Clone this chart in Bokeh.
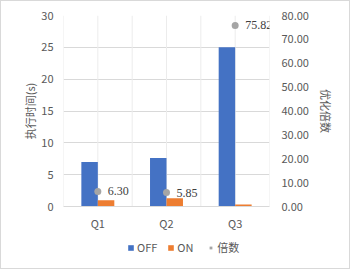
from bokeh.plotting import figure
from bokeh.layouts import column
from bokeh.models import (Range1d, FactorRange, LinearAxis, SingleIntervalTicker,
                          NumeralTickFormatter, ColumnDataSource, LabelSet, Legend,
                          LegendItem, Span)
from bokeh.transform import dodge
from bokeh.embed import file_html
from bokeh.resources import INLINE

categories = ["Q1", "Q2", "Q3"]
off_times = [7.0, 7.6, 25.0]
on_times = [1.0, 1.3, 0.33]
speedup = [6.30, 5.85, 75.82]
series_names = ["OFF", "ON", "倍数"]

FONT = "Noto Sans CJK SC"
TICK_COLOR = "#595959"
GRID = "#d9d9d9"
C_OFF, C_ON, C_SP = "#4472C4", "#ED7D31", "#A5A5A5"

src = ColumnDataSource(dict(
    cat=categories, off=off_times, on=on_times, sp=speedup,
    lbl=["%.2f" % v for v in speedup],
))

p = figure(width=350, height=232, x_range=FactorRange(*categories, range_padding=0),
           y_range=Range1d(0, 30), output_backend="svg", toolbar_location=None,
           min_border_left=62, min_border_right=82, min_border_top=14, min_border_bottom=25)
p.extra_y_ranges = {"right": Range1d(0, 80)}
p.outline_line_color = None
p.background_fill_color = "white"
p.border_fill_color = "white"
p.styles = {"border-top": "1px solid #d9d9d9", "border-left": "1px solid #d9d9d9",
            "border-right": "1px solid #d9d9d9", "box-sizing": "border-box"}

p.vbar(x=dodge("cat", -0.12, range=p.x_range), top="off", width=0.24, source=src,
       fill_color=C_OFF, line_color=None)
p.vbar(x=dodge("cat", 0.12, range=p.x_range), top="on", width=0.24, source=src,
       fill_color=C_ON, line_color=None)
p.scatter(x="cat", y="sp", source=src, y_range_name="right", size=7,
          fill_color=C_SP, line_color=None)
p.add_layout(LabelSet(x="cat", y="sp", text="lbl", source=src, y_range_name="right",
                      x_offset=10, text_baseline="middle", text_font=FONT,
                      text_font_size="12px", text_color="#404040"))

n = len(categories)
for i in range(2 * n + 1):
    p.add_layout(Span(location=i * 0.5, dimension="height", line_color="#ececec",
                      line_width=1, level="underlay"))

p.xgrid.grid_line_color = None
p.ygrid.grid_line_color = GRID
p.ygrid.ticker = SingleIntervalTicker(interval=5)


def style_axis(a, standoff):
    a.axis_line_color = None
    a.major_tick_line_color = None
    a.minor_tick_line_color = None
    a.major_tick_out = 0
    a.major_tick_in = 0
    a.minor_tick_out = 0
    a.minor_tick_in = 0
    a.major_label_text_font = FONT
    a.major_label_text_font_size = "11px"
    a.major_label_text_color = TICK_COLOR
    a.major_label_standoff = standoff
    a.axis_label_text_font = FONT
    a.axis_label_text_font_size = "11px"
    a.axis_label_text_font_style = "normal"
    a.axis_label_text_color = TICK_COLOR


ax = p.xaxis[0]
style_axis(ax, 8)
ax.axis_line_color = GRID

ay = p.yaxis[0]
style_axis(ay, 10)
ay.ticker = SingleIntervalTicker(interval=5)
ay.axis_label = "执行时间(s)"
ay.axis_label_standoff = 0

ry = LinearAxis(y_range_name="right", ticker=SingleIntervalTicker(interval=10),
                formatter=NumeralTickFormatter(format="0.00"))
style_axis(ry, 12)
ry.axis_label = "优化倍数"
ry.axis_label_standoff = 6
p.add_layout(ry, "right")

# legend strip below the chart (its frame is aligned with the chart's frame)
lg = figure(width=350, height=37, x_range=Range1d(0, 1), y_range=Range1d(0, 1),
            output_backend="svg", toolbar_location=None,
            min_border_left=0, min_border_right=0, min_border_top=0, min_border_bottom=0)
lg.extra_y_ranges = {"hidden": Range1d(1000, 1001)}
lg.xaxis.visible = False
lg.yaxis.visible = False
lg.xgrid.visible = False
lg.ygrid.visible = False
lg.outline_line_color = None
lg.background_fill_color = "white"
lg.border_fill_color = "white"
lg.styles = {"border-bottom": "1px solid #d9d9d9", "border-left": "1px solid #d9d9d9",
             "border-right": "1px solid #d9d9d9", "box-sizing": "border-box"}
# proxies (drawn outside the strip's visible range) that give the legend its swatches
r1 = lg.vbar(x="sp", top="off", width=1, source=src, y_range_name="hidden",
             fill_color=C_OFF, line_color=None)
r2 = lg.vbar(x="sp", top="on", width=1, source=src, y_range_name="hidden",
             fill_color=C_ON, line_color=None)
r3 = lg.scatter(x="sp", y="sp", source=src, y_range_name="hidden", marker="square",
                size=5, fill_color=C_SP, line_color=None)
legend = Legend(items=[LegendItem(label=series_names[0], renderers=[r1], index=0),
                       LegendItem(label=series_names[1], renderers=[r2], index=0),
                       LegendItem(label=series_names[2], renderers=[r3], index=0)],
                orientation="horizontal", location=(64, 14),
                padding=0, margin=0, spacing=10, glyph_width=7, glyph_height=7,
                label_standoff=3, label_height=12, label_text_font=FONT,
                label_text_font_size="11px", label_text_color=TICK_COLOR,
                background_fill_alpha=0, border_line_color=None)
lg.add_layout(legend, "center")

layout = column(p, lg, spacing=0)
open("out.html", "w").write(file_html(layout, INLINE))
